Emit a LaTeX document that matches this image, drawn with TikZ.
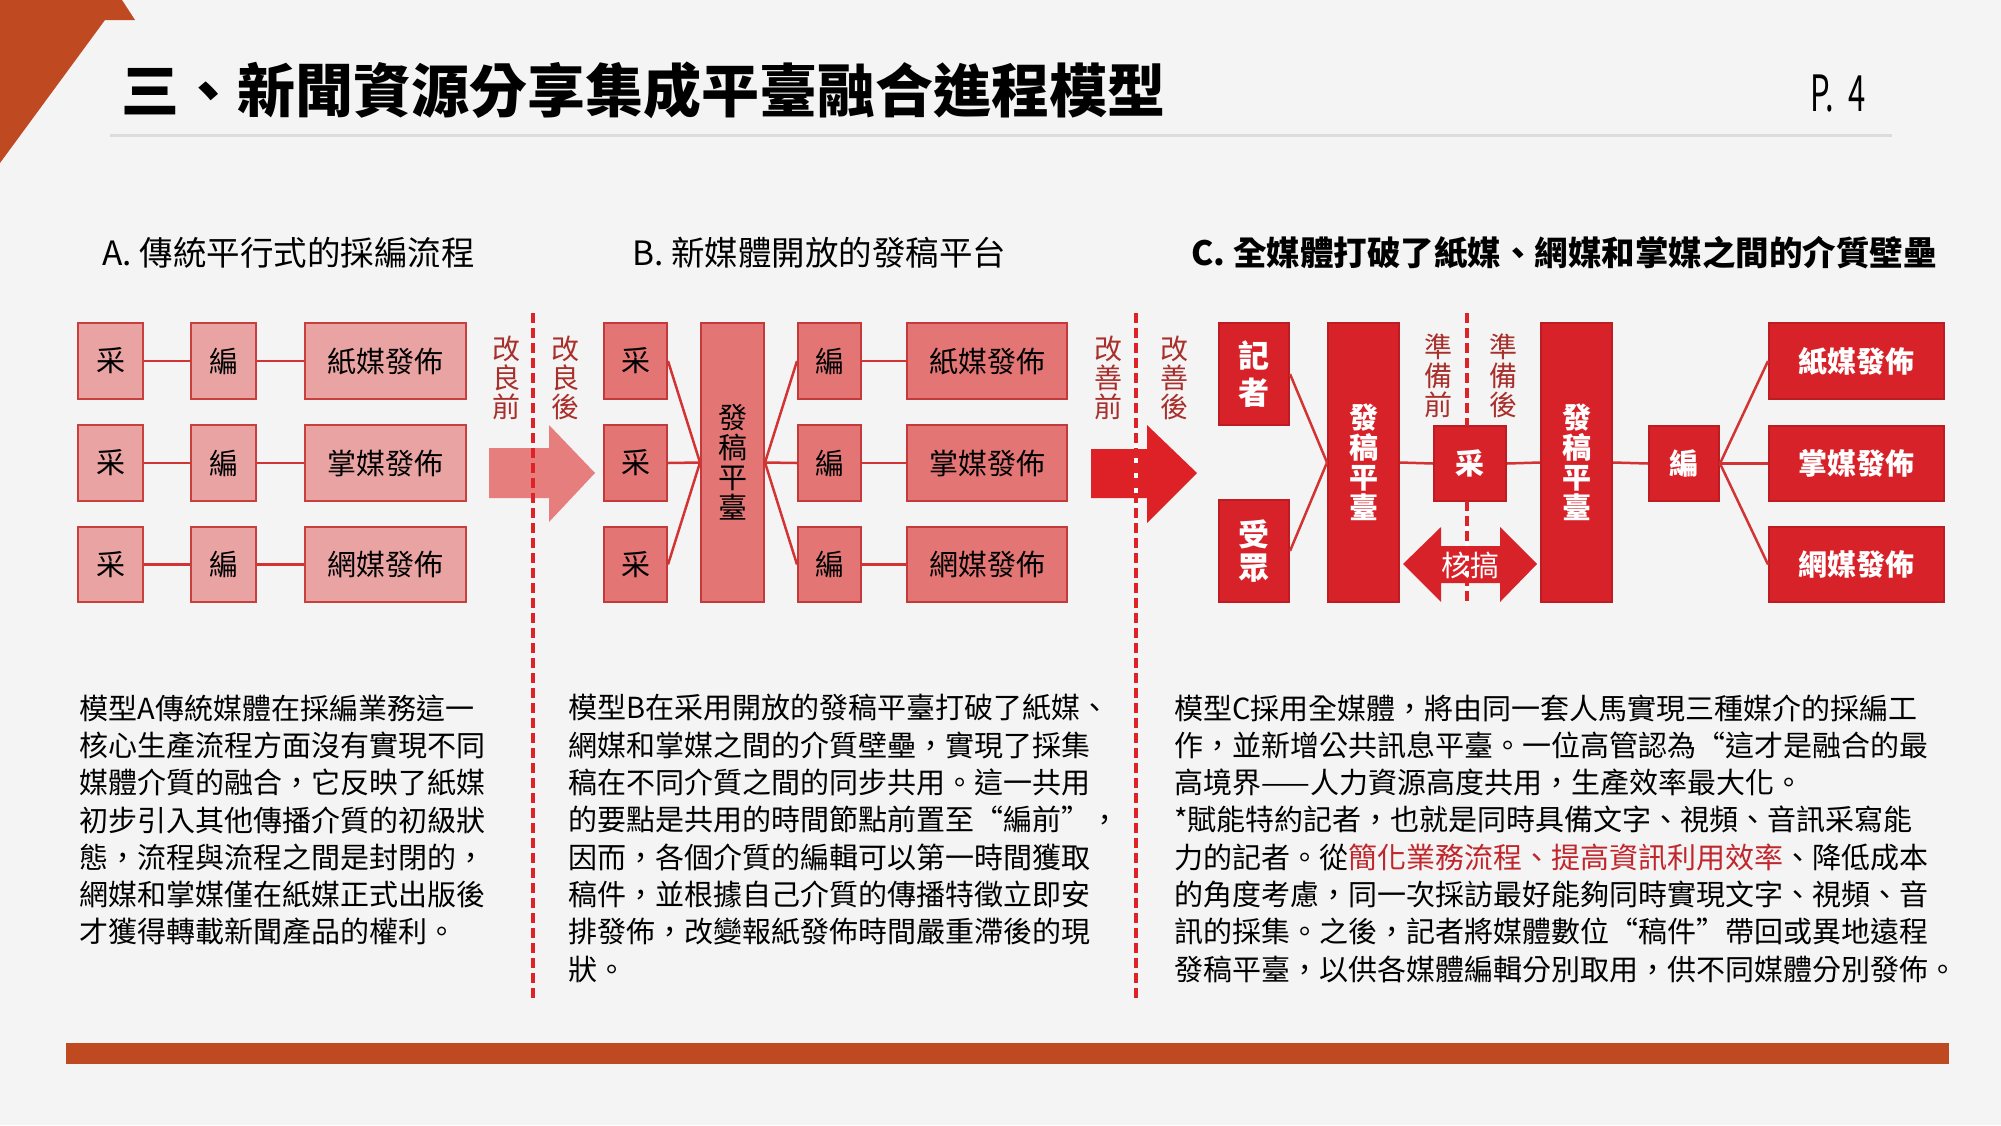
\documentclass[tikz,border=0pt]{standalone}
\usepackage{fontspec}
\setmainfont{Noto Sans CJK TC}
\definecolor{bg}{HTML}{F4F4F4}
\definecolor{brick}{HTML}{BF4A22}
\definecolor{fillA}{HTML}{EAA3A3}
\definecolor{bordA}{HTML}{C8403E}
\definecolor{fillB}{HTML}{E37575}
\definecolor{bordB}{HTML}{C43A3A}
\definecolor{fillC}{HTML}{D8222A}
\definecolor{bordC}{HTML}{BC1C22}
\definecolor{arrA}{HTML}{E67E7E}
\definecolor{arrC}{HTML}{DE2127}
\definecolor{dashred}{HTML}{DD2228}
\definecolor{linkred}{HTML}{D23434}
\definecolor{labred}{HTML}{A8302C}
\definecolor{hlred}{HTML}{C0272D}
\definecolor{rulegray}{HTML}{DCDCDC}
\newcommand\mybox[7]{\node[#2, minimum width={(#5-#3)*0.5pt}, minimum height={(#6-#4)*0.5pt}] (#1) at ({(#3+#5)/2},{(#4+#6)/2}) {#7};}
\begin{document}
\begin{tikzpicture}[x=0.5pt,y=-0.5pt,
  boxA/.style={draw=bordA, fill=fillA, line width=1pt, inner sep=0pt, text=black, align=center, font=\fontsize{14.5}{15}\selectfont},
  boxB/.style={draw=bordB, fill=fillB, line width=1pt, inner sep=0pt, text=black, align=center, font=\fontsize{14.5}{15}\selectfont},
  boxC/.style={draw=bordC, fill=fillC, line width=1pt, inner sep=0pt, text=white, align=center, font=\fontsize{14.5}{15}\selectfont\bfseries},
  link/.style={draw=linkred, line width=1.25pt},
  dashln/.style={draw=dashred, line width=1.75pt, dash pattern=on 5pt off 2.5pt},
  vlab/.style={text=labred, font=\fontsize{14}{14.5}\selectfont, align=center, inner sep=0pt},
  head/.style={anchor=west, inner sep=0pt, font=\fontsize{16.75}{18}\selectfont},
  para/.style={anchor=north west, inner sep=0pt, align=left, font=\fontsize{14.5}{18.65}\selectfont, text=black}]
\useasboundingbox (0,0) rectangle (2001,1125);
\fill[bg] (0,0) rectangle (2001,1125);
\fill[brick] (0,0) -- (122,0) -- (135,20) -- (105,20) -- (0,163) -- cycle;
\draw[rulegray, line width=1.5pt] (110,135) -- (1892,135);
\node[anchor=west, inner sep=0pt, font=\fontsize{29}{30}\selectfont\bfseries] (title) at (121,90) {三、新聞資源分享集成平臺融合進程模型};
\node[anchor=east, inner sep=0pt] (page) at (1866,93) {\scalebox{0.62}[1]{\fontsize{25}{25}\selectfont P.\hspace{0.45em}4}};
\fill[brick] (66,1043) rectangle (1949,1064);

% headings
\node[head] (ha) at (102,253) {A. 傳統平行式的採編流程};
\node[head] (hb) at (632,253) {B. 新媒體開放的發稿平台};
\node[head, font=\fontsize{16.75}{18}\selectfont\bfseries] (hc) at (1191,253) {C. 全媒體打破了紙媒、網媒和掌媒之間的介質壁壘};

% arrows
\fill[arrA] (489,448) -- (549,448) -- (549,425) -- (595,473) -- (549,522) -- (549,498) -- (489,498) -- cycle;
\fill[arrC] (1091,449) -- (1147,449) -- (1147,425) -- (1197,473) -- (1147,523) -- (1147,498) -- (1091,498) -- cycle;
\draw[dashln] (533,313) -- (533,1002);
\draw[white, line width=1.75pt] (1136,425) -- (1136,523);
\draw[dashln] (1136,313) -- (1136,1002);

% vertical labels
\node[vlab] (l1) at (506,378) {改\\良\\前};
\node[vlab] (l2) at (565,378) {改\\良\\後};
\node[vlab] (l3) at (1108,378) {改\\善\\前};
\node[vlab] (l4) at (1174,378) {改\\善\\後};
\node[vlab] (l5) at (1438,376) {準\\備\\前};
\node[vlab] (l6) at (1503,376) {準\\備\\後};

% section A
\mybox{a11}{boxA}{78}{323}{143}{399}{采}
\mybox{a12}{boxA}{191}{323}{256}{399}{編}
\mybox{a13}{boxA}{305}{323}{466}{399}{紙媒發佈}
\mybox{a21}{boxA}{78}{425}{143}{501}{采}
\mybox{a22}{boxA}{191}{425}{256}{501}{編}
\mybox{a23}{boxA}{305}{425}{466}{501}{掌媒發佈}
\mybox{a31}{boxA}{78}{527}{143}{602}{采}
\mybox{a32}{boxA}{191}{527}{256}{602}{編}
\mybox{a33}{boxA}{305}{527}{466}{602}{網媒發佈}
\foreach \r in {1,2,3}{
  \draw[link] (a\r1.east) -- (a\r2.west);
  \draw[link] (a\r2.east) -- (a\r3.west);
}

% section B
\mybox{b11}{boxB}{604}{323}{667}{399}{采}
\mybox{b21}{boxB}{604}{425}{667}{501}{采}
\mybox{b31}{boxB}{604}{527}{667}{602}{采}
\mybox{bp}{boxB}{701}{323}{764}{602}{發\\稿\\平\\臺}
\mybox{b12}{boxB}{798}{323}{861}{399}{編}
\mybox{b22}{boxB}{798}{425}{861}{501}{編}
\mybox{b32}{boxB}{798}{527}{861}{602}{編}
\mybox{b13}{boxB}{907}{323}{1067}{399}{紙媒發佈}
\mybox{b23}{boxB}{907}{425}{1067}{501}{掌媒發佈}
\mybox{b33}{boxB}{907}{527}{1067}{602}{網媒發佈}
\foreach \r in {1,2,3}{
  \draw[link] (b\r1.east) -- (bp.west);
  \draw[link] (bp.east) -- (b\r2.west);
  \draw[link] (b\r2.east) -- (b\r3.west);
}

% section C
\mybox{cj}{boxC, font=\fontsize{15.5}{18.5}\selectfont\bfseries}{1219}{323}{1289}{425}{記\\者}
\mybox{cs}{boxC, font=\fontsize{15.5}{16.5}\selectfont\bfseries}{1219}{500}{1289}{602}{受\\眾}
\mybox{cp1}{boxC}{1328}{323}{1399}{602}{發\\稿\\平\\臺}
\mybox{cc}{boxC}{1434}{426}{1506}{501}{采}
\mybox{cp2}{boxC}{1541}{323}{1612}{602}{發\\稿\\平\\臺}
\mybox{ce}{boxC}{1649}{426}{1719}{501}{編}
\mybox{cf1}{boxC}{1769}{323}{1944}{399}{紙媒發佈}
\mybox{cf2}{boxC}{1769}{426}{1944}{501}{掌媒發佈}
\mybox{cf3}{boxC}{1769}{527}{1944}{602}{網媒發佈}
\draw[link] (cj.east) -- (cp1.west);
\draw[link] (cs.east) -- (cp1.west);
\draw[link] (cp1.east) -- (cc.west);
\draw[link] (cc.east) -- (cp2.west);
\draw[link] (cp2.east) -- (ce.west);
\foreach \r in {1,2,3}{\draw[link] (ce.east) -- (cf\r.west);}
\fill[fillC] (1403,564) -- (1441,527) -- (1441,546) -- (1500,546) -- (1500,527) -- (1537,564) -- (1500,602) -- (1500,583) -- (1441,583) -- (1441,602) -- cycle;
\draw[dashln] (1467,313) -- (1467,426);
\draw[white, line width=1.75pt] (1467,527) -- (1467,602);
\draw[dashln] (1467,501) -- (1467,602);
\node[inner sep=0pt, text=white, font=\fontsize{14.5}{15}\selectfont] (hg) at (1470,565) {核搞};

% paragraphs
\node[para] (pa) at (79,694) {模型A傳統媒體在採編業務這一\\核心生產流程方面沒有實現不同\\媒體介質的融合，它反映了紙媒\\初步引入其他傳播介質的初級狀\\態，流程與流程之間是封閉的，\\網媒和掌媒僅在紙媒正式出版後\\才獲得轉載新聞產品的權利。};
\node[para] (pb) at (568,694) {模型B在采用開放的發稿平臺打破了紙媒、\\網媒和掌媒之間的介質壁壘，實現了採集\\稿在不同介質之間的同步共用。這一共用\\的要點是共用的時間節點前置至“編前”，\\因而，各個介質的編輯可以第一時間獲取\\稿件，並根據自己介質的傳播特徵立即安\\排發佈，改變報紙發佈時間嚴重滯後的現\\狀。};
\node[para] (pc) at (1174,694) {模型C採用全媒體，將由同一套人馬實現三種媒介的採編工\\作，並新增公共訊息平臺。一位高管認為“這才是融合的最\\高境界——人力資源高度共用，生產效率最大化。\\*賦能特約記者，也就是同時具備文字、視頻、音訊采寫能\\力的記者。從{\color{hlred}簡化業務流程、提高資訊利用效率}、降低成本\\的角度考慮，同一次採訪最好能夠同時實現文字、視頻、音\\訊的採集。之後，記者將媒體數位“稿件”帶回或異地遠程\\發稿平臺，以供各媒體編輯分別取用，供不同媒體分別發佈。};
\end{tikzpicture}
\end{document}
